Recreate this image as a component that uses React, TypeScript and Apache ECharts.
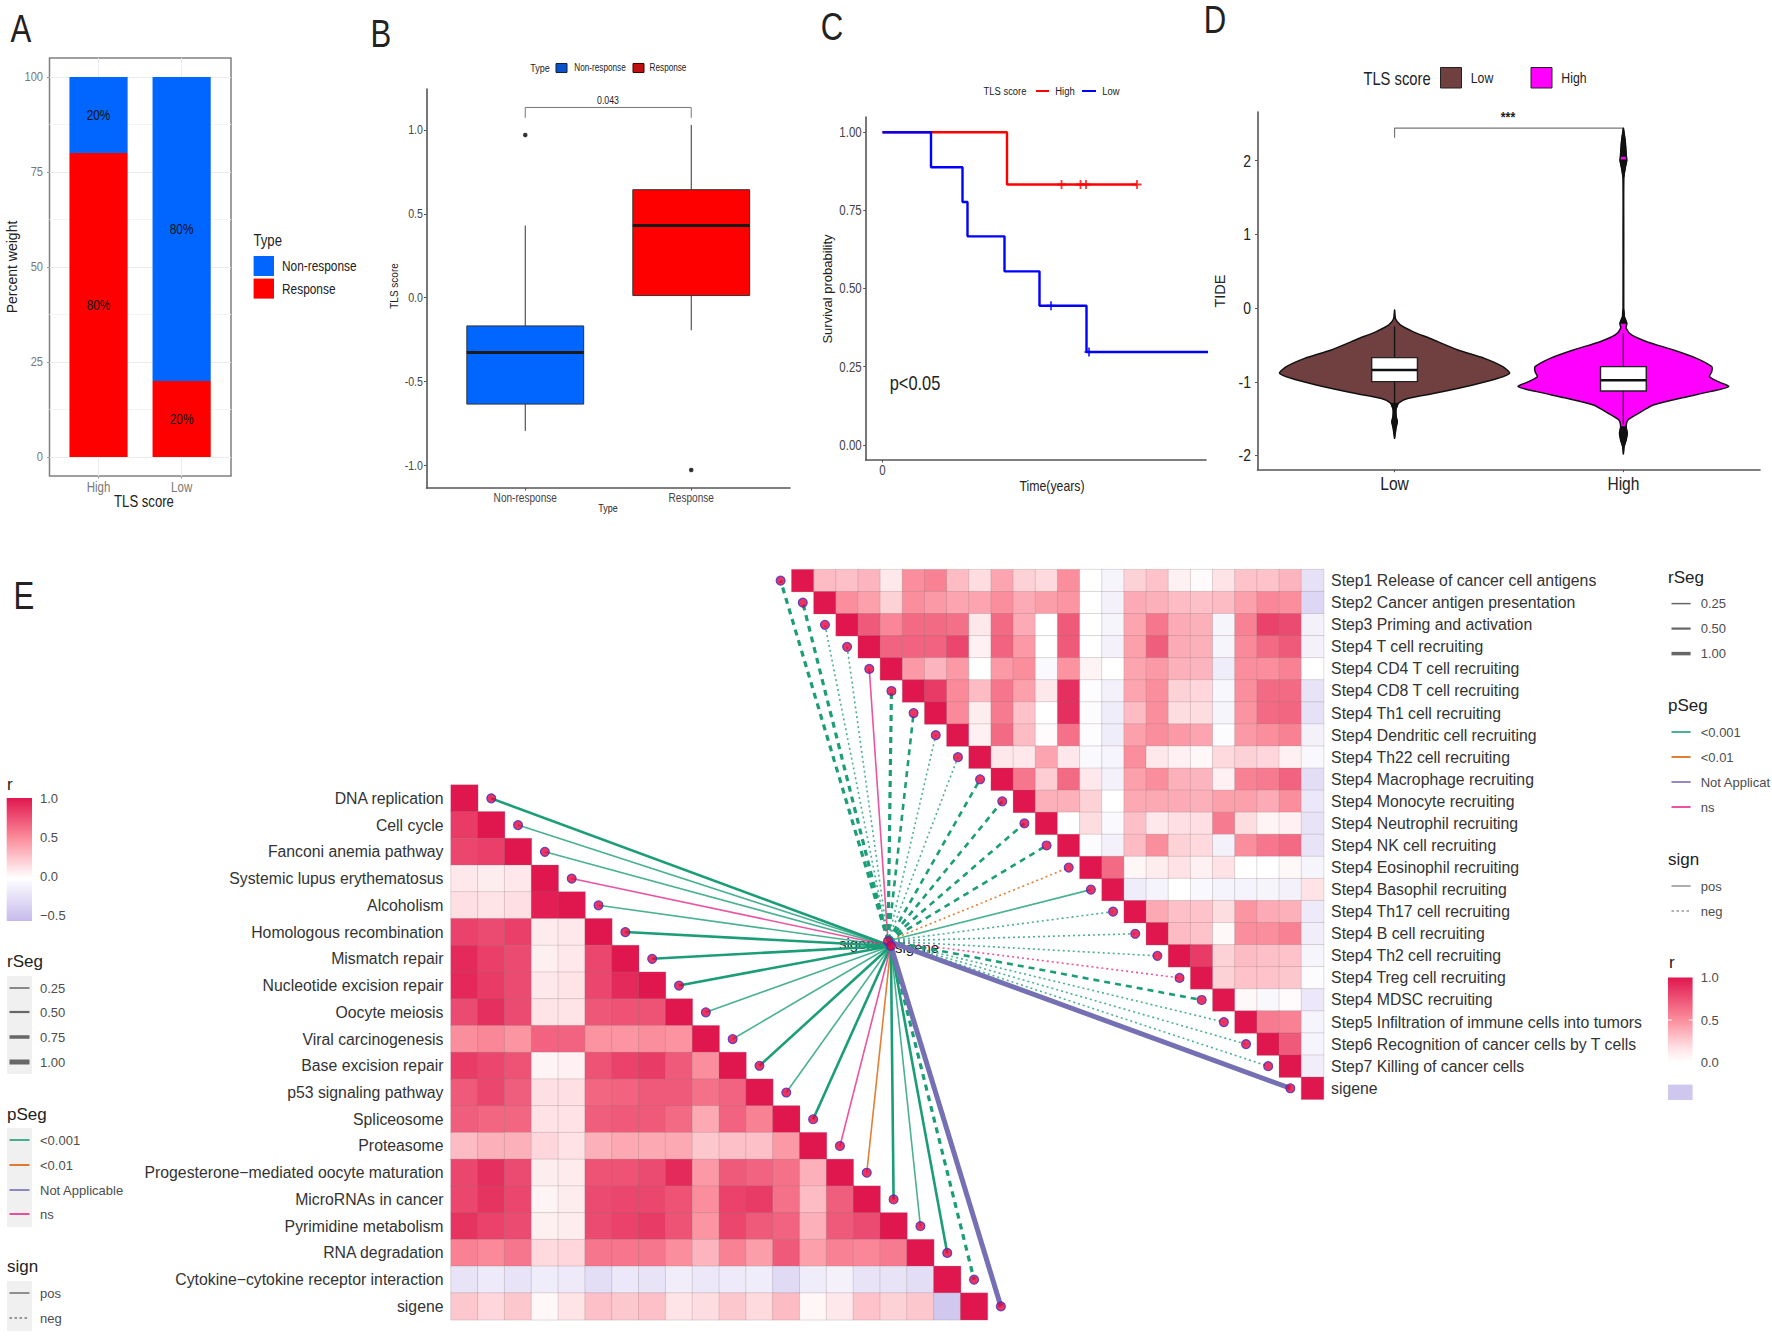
import React, { useEffect, useRef } from "react";
import * as echarts from "echarts";

const SANS = '"Liberation Sans",Arial,sans-serif';
const SQUEEZE = 0.82;

// ---- Panel A
const responsePct = [80, 20];
const nonResponsePct = [20, 80];
const scoreGroups = ["High", "Low"];
const percentTicks = [0, 25, 50, 75, 100];
const percentMinor = [12.5, 37.5, 62.5, 87.5];

// ---- Panel B
const typeGroups = ["Non-response", "Response"];
const scoreTicks = [-1, -0.5, 0, 0.5, 1];
const whiskerLow = [-0.794, -0.194];
const quartile1 = [-0.634, 0.013];
const medians = [-0.326, 0.43];
const quartile3 = [-0.168, 0.644];
const whiskerHigh = [0.43, 1.03];
const outliers = [[1, 0.97], [2, -1.027]];
const bracketB = [[1, 1.072], [1, 1.134], [2, 1.134], [2, 1.072]];

// ---- Panel C
const kmHigh = [[0, 1], [2.49, 0.833], [5.09, 0.833]];
const kmLow = [[0, 1], [0.97, 0.888], [1.6, 0.777], [1.7, 0.667], [2.44, 0.555], [3.14, 0.445], [4.08, 0.297], [7, 0.297]];
const censorHigh = [[3.58, 0.833], [3.96, 0.833], [4.07, 0.833], [5.09, 0.833]];
const censorLow = [[3.37, 0.445], [4.13, 0.297]];
const survivalTicks = [0, 0.25, 0.5, 0.75, 1];

// ---- Panel D
const tideTicks = [-2, -1, 0, 1, 2];
const tideGroups = ["Low", "High"];
const violinLowY = [-0.026, -0.139, -0.229, -0.32, -0.41, -0.568, -0.682, -0.795, -0.885, -0.953, -1.043, -1.156, -1.224, -1.292, -1.383, -1.473, -1.541, -1.631, -1.767];
const violinLowW = [0, 0.003, 0.025, 0.08, 0.153, 0.277, 0.393, 0.473, 0.503, 0.452, 0.342, 0.175, 0.061, 0.017, 0.006, 0.007, 0.012, 0.006, 0];
const violinHighY = [2.44, 2.27, 2.1, 2.06, 2.01, 1.9, 1.77, 1, 0, -0.05, -0.117, -0.206, -0.274, -0.365, -0.456, -0.568, -0.682, -0.795, -0.863, -0.931, -0.999, -1.066, -1.134, -1.224, -1.315, -1.428, -1.519, -1.61, -1.699, -1.79, -1.88, -1.98];
const violinHighW = [0, 0.008, 0.012, 0.013, 0.015, 0.008, 0.002, 0.0015, 0.0015, 0.003, 0.004, 0.015, 0.012, 0.036, 0.102, 0.219, 0.32, 0.386, 0.386, 0.376, 0.415, 0.46, 0.379, 0.248, 0.131, 0.066, 0.02, 0.012, 0.017, 0.012, 0.003, 0];
const violinLowDark = [[-1.29, -1.77], [-0.02, -0.14]];
const violinHighDark = [[2.44, 2.06], [2.01, 1.77], [-0.05, -0.21], [-1.6, -1.98]];
const tideWhiskerTop = [-0.25, -0.34];
const tideWhiskerBottom = [-1.33, -1.58];
const tideQ3 = [-0.673, -0.795];
const tideMedian = [-0.84, -0.98];
const tideQ1 = [-0.998, -1.125];
const bracketD = [[1, 2.31], [1, 2.44], [2, 2.44], [2, 2.38]];

// ---- Panel E, upper triangle
const upperLabels = ["Step1 Release of cancer cell antigens", "Step2 Cancer antigen presentation", "Step3 Priming and activation", "Step4 T cell recruiting", "Step4 CD4 T cell recruiting", "Step4 CD8 T cell recruiting", "Step4 Th1 cell recruiting", "Step4 Dendritic cell recruiting", "Step4 Th22 cell recruiting", "Step4 Macrophage recruiting", "Step4 Monocyte recruiting", "Step4 Neutrophil recruiting", "Step4 NK cell recruiting", "Step4 Eosinophil recruiting", "Step4 Basophil recruiting", "Step4 Th17 cell recruiting", "Step4 B cell recruiting", "Step4 Th2 cell recruiting", "Step4 Treg cell recruiting", "Step4 MDSC recruiting", "Step5 Infiltration of immune cells into tumors", "Step6 Recognition of cancer cells by T cells", "Step7 Killing of cancer cells", "sigene"];
const upperRows = [
  [1, .3, .28, .33, .1, .5, .55, .3, .15, .4, .2, .17, .5, 0, -.07, .2, .27, .06, .02, .12, .27, .27, .33, -.22],
  [1, .5, .42, .2, .5, .45, .4, .4, .5, .37, .43, .47, 0, -.1, .37, .35, .3, .28, .3, .42, .53, .5, -.3],
  [1, .72, .53, .65, .65, .63, .1, .65, .37, 0, .72, 0, -.07, .4, .6, .37, .35, -.07, .55, .82, .78, -.1],
  [1, .68, .68, .68, .8, .06, .68, .45, 0, .72, 0, -.1, .42, .7, .37, .35, -.07, .52, .65, .72, -.1],
  [1, .45, .33, .45, 0, .45, .5, -.04, .48, .05, 0, .4, .45, .35, .33, -.13, .5, .5, .55, 0],
  [1, .85, .52, .3, .6, .42, .1, .9, -.02, -.1, .4, .5, .2, .18, -.06, .5, .65, .65, -.2],
  [1, .52, .08, .58, .27, 0, .9, -.03, -.13, .3, .5, .15, .15, -.07, .48, .65, .67, -.22],
  [1, .06, .65, .3, .02, .62, -.02, -.13, .42, .5, .45, .4, -.03, .45, .5, .55, -.1],
  [1, .1, .1, .4, .1, -.04, -.08, .5, .1, .06, .03, .17, .2, .18, .06, -.05],
  [1, .6, .22, .65, .1, -.1, .42, .5, .35, .33, .06, .55, .58, .68, -.25],
  [1, .35, .35, .2, 0, .38, .38, .37, .35, .42, .42, .37, .5, -.17],
  [1, 0, .15, -.04, .28, .1, .14, .14, .58, .15, .05, .06, -.2],
  [1, -.03, -.1, .3, .5, .2, .17, -.1, .5, .6, .65, -.2],
  [1, .65, .04, .08, .13, .06, .13, 0, 0, .03, -.07],
  [1, -.13, -.09, 0, -.05, -.09, -.09, -.07, -.1, .12],
  [1, .38, .28, .27, .15, .47, .37, .35, -.15],
  [1, .3, .27, .03, .5, .5, .55, -.12],
  [1, .85, .2, .3, .28, .27, -.07],
  [1, .2, .27, .27, .25, -.03],
  [1, .03, -.05, .02, -.17],
  [1, .58, .55, -.08],
  [1, .72, -.08],
  [1, -.12],
  [1],
];
const upperP = ["a", "a", "a", "a", "ns", "a", "a", "a", "a", "a", "a", "a", "a", "b", "a", "a", "a", "a", "ns", "a", "a", "a", "a", "na"];
const upperSign = ["neg", "neg", "neg", "neg", "pos", "neg", "neg", "neg", "neg", "neg", "neg", "neg", "neg", "neg", "pos", "neg", "neg", "neg", "neg", "neg", "neg", "neg", "neg", "pos"];
const upperR = [.75, .75, .25, .25, .25, .75, .5, .25, .25, .5, .5, .5, .5, .25, .25, .25, .25, .25, .25, .5, .25, .25, .25, 1];

// ---- Panel E, lower triangle
const lowerLabels = ["DNA replication", "Cell cycle", "Fanconi anemia pathway", "Systemic lupus erythematosus", "Alcoholism", "Homologous recombination", "Mismatch repair", "Nucleotide excision repair", "Oocyte meiosis", "Viral carcinogenesis", "Base excision repair", "p53 signaling pathway", "Spliceosome", "Proteasome", "Progesterone\u2212mediated oocyte maturation", "MicroRNAs in cancer", "Pyrimidine metabolism", "RNA degradation", "Cytokine\u2212cytokine receptor interaction", "sigene"];
const lowerRows = [
  [1],
  [.85, 1],
  [.8, .83, 1],
  [.1, .08, .1, 1],
  [.14, .12, .14, .97, 1],
  [.82, .78, .83, .09, .1, 1],
  [.92, .83, .78, .07, .1, .8, 1],
  [.93, .85, .78, .1, .12, .8, .92, 1],
  [.78, .9, .78, .12, .12, .73, .75, .75, 1],
  [.5, .53, .47, .68, .68, .48, .47, .5, .48, 1],
  [.85, .8, .75, .05, .06, .75, .82, .85, .72, .5, 1],
  [.72, .8, .7, .14, .14, .67, .68, .72, .72, .62, .68, 1],
  [.7, .67, .67, .13, .13, .7, .72, .72, .65, .38, .68, .55, 1],
  [.3, .35, .35, .18, .13, .35, .38, .38, .38, .25, .28, .28, .45, 1],
  [.8, .9, .78, .08, .09, .75, .75, .78, .92, .45, .72, .68, .62, .35, 1],
  [.8, .88, .8, .05, .08, .78, .8, .8, .75, .5, .82, .85, .62, .3, .7, 1],
  [.88, .82, .78, .07, .08, .78, .82, .85, .75, .47, .8, .72, .68, .35, .72, .78, 1],
  [.55, .52, .6, .17, .18, .6, .6, .6, .5, .33, .55, .43, .72, .42, .55, .53, .58, 1],
  [-.2, -.15, -.2, -.13, -.15, -.25, -.17, -.2, -.12, -.17, -.15, -.13, -.27, -.13, -.1, -.2, -.2, -.25, 1],
  [.25, .18, .25, .03, .12, .28, .25, .28, .12, .15, .25, .17, .3, .04, .1, .27, .2, .25, -.4, 1],
];
const lowerP = ["a", "a", "a", "ns", "a", "a", "a", "a", "a", "a", "a", "a", "a", "ns", "b", "a", "a", "a", "a", "na"];
const lowerSign = ["pos", "pos", "pos", "pos", "pos", "pos", "pos", "pos", "pos", "pos", "pos", "pos", "pos", "pos", "pos", "pos", "pos", "pos", "neg", "pos"];
const lowerR = [.5, .25, .25, .25, .25, .5, .5, .5, .25, .25, .5, .25, .5, .25, .25, .5, .25, .5, .75, 1];
const upperHub = [3.846, 16.33];
const lowerHub = [15.9, 5.52];

// ---- legends
const rSegLeft = ["0.25", "0.50", "0.75", "1.00"];
const rSegRight = ["0.25", "0.50", "1.00"];
const pSegLeft = ["<0.001", "<0.01", "Not Applicable", "ns"];
const pSegRight = ["<0.001", "<0.01", "Not Applicat", "ns"];
const signLabels = ["pos", "neg"];
const rTicksLeft = ["1.0", "0.5", "0.0", "\u22120.5"];
const rTicksRight = ["1.0", "0.5", "0.0"];

const BLUE = "#0066FF", RED = "#FF0000", BROWN = "#6F403F", MAGENTA = "#FF00FF";
const pColor: any = { a: "#1B9E77", b: "#D95F02", na: "#7570B3", ns: "#E7298A" };
const rWidth: any = { 0.25: 1.6, 0.5: 2.6, 0.75: 3.2, 1: 5 };
const R_STOPS = ["#C6BAEC", "#FFFFFF", "#FB8E9C", "#E0174F"];

const linkData = (n: number, p: string[], sign: string[], r: number[], hub: number[], dx: number) =>
  Array.from({ length: n }, (_, i) => {
    const w = rWidth[r[i]];
    return {
      coords: [hub, [i + dx, i]],
      lineStyle: {
        color: pColor[p[i]],
        width: w,
        opacity: r[i] === 0.25 ? 0.8 : 1,
        type: sign[i] === "pos" ? "solid" : w < 2 ? [2, 3] : [6, 5],
      },
    };
  });

const heatData = (rows: number[][], upper: boolean) => {
  const out: number[][] = [];
  rows.forEach((row, i) => row.forEach((v, j) => out.push(upper ? [i + j, i, v] : [j, i, v])));
  return out;
};

function valueAxis(gridIndex: number, min: number, max: number, ticks: number[], extra: any = {}) {
  const { tickColor = "#555", lineShow = true, ...rest } = extra;
  return {
    type: "value",
    gridIndex,
    min,
    max,
    splitLine: { show: false },
    axisLine: { show: lineShow, onZero: false, lineStyle: { color: "#555", width: 1.6 } },
    axisTick: { show: true, customValues: ticks, length: 2.5, lineStyle: { color: tickColor } },
    axisLabel: { show: false },
    ...rest,
  };
}

// tick labels squeezed horizontally, placed through the axis scale
function tickLabels(idx: number, dir: "x" | "y", ticks: number[], other: number, off: number, size: number, color: string, fmt: (v: number) => string) {
  return {
    type: "custom",
    xAxisIndex: idx,
    yAxisIndex: idx,
    clip: false,
    silent: true,
    z: 5,
    data: ticks.map((v) => (dir === "x" ? [v, other] : [other, v])),
    renderItem: (p: any, api: any) => {
      const pt = api.coord([api.value(0), api.value(1)]);
      return {
        type: "text",
        x: dir === "x" ? pt[0] : pt[0] - off,
        y: dir === "x" ? pt[1] + off : pt[1],
        scaleX: SQUEEZE,
        style: { text: fmt(ticks[p.dataIndex]), fontSize: size, fontFamily: SANS, fill: color, align: dir === "x" ? "center" : "right", verticalAlign: "middle" },
      };
    },
  };
}

function stackedBar(name: string, values: number[], bases: number[], color: string) {
  return {
    name,
    type: "custom",
    xAxisIndex: 0,
    yAxisIndex: 0,
    z: 3,
    data: values.map((v, i) => [i + 1, bases[i] + v]),
    renderItem: (p: any, api: any) => {
      const i = p.dataIndex, x = i + 1, w = 0.35;
      const tl = api.coord([x - w, bases[i] + values[i]]), br = api.coord([x + w, bases[i]]);
      const mid = api.coord([x, bases[i] + values[i] / 2]);
      return {
        type: "group",
        children: [
          { type: "rect", shape: { x: tl[0], y: tl[1], width: br[0] - tl[0], height: br[1] - tl[1] }, style: { fill: color } },
          { type: "text", x: mid[0], y: mid[1], scaleX: SQUEEZE, style: { text: values[i] + "%", fontSize: 14.5, fontFamily: SANS, fill: "#111", align: "center", verticalAlign: "middle" } },
        ],
      };
    },
  };
}

export default function App() {
  const ref = useRef<HTMLDivElement>(null);
  useEffect(() => {
    document.body.style.margin = "0";
    const chart = echarts.init(ref.current!, undefined, { renderer: "svg" });

    const T = (x: number, y: number, text: string, o: any = {}) => ({
      type: "text",
      x,
      y,
      rotation: o.rot ? Math.PI / 2 : 0,
      scaleX: o.wide || o.rot ? 1 : SQUEEZE,
      silent: true,
      z: 1,
      style: {
        text,
        fontSize: o.size ?? 13,
        fontFamily: SANS,
        fontWeight: o.bold ? "bold" : "normal",
        fill: o.color ?? "#222",
        align: o.align ?? "center",
        verticalAlign: "middle",
      },
    });
    const L = (x1: number, x2: number, y: number, stroke: string, lineWidth: number, dash?: number[]) => ({
      type: "line",
      silent: true,
      z: 2,
      shape: { x1, y1: y, x2, y2: y },
      style: { stroke, lineWidth, lineDash: dash },
    });
    const Rc = (x: number, y: number, w: number, h: number, fill: any, stroke?: string) => ({
      type: "rect",
      silent: true,
      z: 1,
      shape: { x, y, width: w, height: h },
      style: { fill, stroke, lineWidth: stroke ? 1 : 0 },
    });
    const gradient = (stops: any[]) => new echarts.graphic.LinearGradient(0, 0, 0, 1, stops);
    const Title = (x: number, y: number, s: string) => T(x, y, s, { size: 17, wide: true, align: "left" });

    const elements: any[] = [
      T(21, 29, "A", { size: 38 }),
      T(381, 34, "B", { size: 38 }),
      T(832, 27, "C", { size: 38 }),
      T(1215, 20, "D", { size: 38 }),
      T(24, 596, "E", { size: 38 }),
      // A
      T(12, 267, "Percent weight", { rot: true, size: 14 }),
      T(144, 502, "TLS score", { size: 16 }),
      T(253.5, 241, "Type", { size: 16, align: "left" }),
      Rc(253.6, 256, 20.4, 20, BLUE),
      Rc(253.6, 278.6, 20.4, 20, RED),
      T(282, 266, "Non-response", { size: 14.5, align: "left" }),
      T(282, 288.6, "Response", { size: 14.5, align: "left" }),
      // B
      T(394, 286, "TLS score", { rot: true, size: 10 }),
      T(608, 508, "Type", { size: 11 }),
      T(540, 68, "Type", { size: 11 }),
      Rc(556, 63.5, 11, 9, "#0A52C9", "#123"),
      Rc(633, 63.5, 11, 9, "#C00F0F", "#400"),
      T(600, 68, "Non-response", { size: 10 }),
      T(668, 68, "Response", { size: 10 }),
      T(608, 100, "0.043", { size: 10.7 }),
      // C
      T(827, 289, "Survival probability", { rot: true, size: 13 }),
      T(1052, 486, "Time(years)", { size: 15 }),
      T(915, 383, "p<0.05", { size: 20 }),
      T(1005, 91, "TLS score", { size: 11.5 }),
      L(1036, 1049, 91, RED, 2),
      T(1065, 91, "High", { size: 11.5 }),
      L(1082, 1096, 91, "#0000FF", 2),
      T(1111, 91, "Low", { size: 11.5 }),
      // D
      T(1220, 291, "TIDE", { rot: true, size: 14.5 }),
      T(1508, 117, "***", { size: 15, bold: true }),
      T(1397, 78, "TLS score", { size: 18 }),
      Rc(1440.5, 67.5, 21, 20.5, BROWN, "#222"),
      T(1482, 78, "Low", { size: 15 }),
      Rc(1531, 67.5, 21, 20.5, MAGENTA, "#222"),
      T(1574, 78, "High", { size: 15 }),
      // E labels at the hub
      T(861, 943, "sigene", { size: 15, wide: true }),
      T(917, 947.5, "sigene", { size: 15, wide: true }),
      // E left legends
      Title(7, 784, "r"),
      Rc(6.7, 798, 25.3, 123, gradient([
        { offset: 0, color: R_STOPS[3] },
        { offset: 0.33, color: R_STOPS[2] },
        { offset: 0.65, color: R_STOPS[1] },
        { offset: 1, color: R_STOPS[0] },
      ])),
      Title(7, 961, "rSeg"),
      Rc(7, 976, 25, 98, "#F0F0F0"),
      Title(7, 1114, "pSeg"),
      Rc(7, 1128, 25, 99, "#F0F0F0"),
      Title(7, 1266, "sign"),
      Rc(7, 1281, 25, 50, "#F0F0F0"),
      // E right legends
      Title(1668, 577, "rSeg"),
      Title(1668, 705, "pSeg"),
      Title(1668, 859, "sign"),
      Title(1669, 962.5, "r"),
      Rc(1668, 977.5, 24.6, 85, gradient([
        { offset: 0, color: R_STOPS[3] },
        { offset: 0.5, color: R_STOPS[2] },
        { offset: 0.85, color: "#FFE6EA" },
        { offset: 1, color: "#FFFFFF" },
      ])),
      Rc(1668, 1084.6, 24.6, 15.4, "#CFC7EE"),
      L(1668, 1672, 1020, "#fff", 1),
      L(1688.6, 1692.6, 1020, "#fff", 1),
    ];
    const legendText = (x: number, y: number, s: string) => T(x, y, s, { size: 13, wide: true, align: "left", color: "#4d4d4d" });
    [798, 837, 876.5, 915].forEach((y, i) => elements.push(legendText(40, y, rTicksLeft[i])));
    [988, 1012, 1037, 1062].forEach((y, i) => {
      elements.push(L(9.5, 29.5, y, "#666", [1.5, 2.2, 3.5, 5][i]), legendText(40, y, rSegLeft[i]));
    });
    const pKeys = ["a", "b", "na", "ns"];
    [1140, 1165, 1190, 1214].forEach((y, i) => {
      elements.push(L(9.5, 29.5, y, pColor[pKeys[i]], 1.6), legendText(40, y, pSegLeft[i]));
    });
    [1293, 1318].forEach((y, i) => {
      elements.push(L(9.5, 29.5, y, "#777", 1.6, i ? [2.5, 2.5] : undefined), legendText(40, y, signLabels[i]));
    });
    [603.6, 628.6, 653.6].forEach((y, i) => {
      elements.push(L(1671.5, 1690.6, y, "#666", [1.5, 2.2, 3.5][i]), legendText(1700.7, y, rSegRight[i]));
    });
    [732, 757, 782, 807].forEach((y, i) => {
      elements.push(L(1671.5, 1690.6, y, pColor[pKeys[i]], 1.6), legendText(1700.7, y, pSegRight[i]));
    });
    [886, 911].forEach((y, i) => {
      elements.push(L(1671.5, 1690.6, y, "#999", 1.6, i ? [2.5, 2.5] : undefined), legendText(1700.7, y, signLabels[i]));
    });
    [977, 1020, 1062.5].forEach((y, i) => elements.push(legendText(1700.7, y, rTicksRight[i])));

    const heatStyle = { borderColor: "rgba(140,120,120,0.35)", borderWidth: 0.7 };
    const heatLabel = { interval: 0, margin: 7.5, fontSize: 15.8, color: "#333", fontFamily: SANS };
    const nodeStyle = { color: "#E8003A", borderColor: "#2F2FD0", borderWidth: 1.1 };

    const option: any = {
      animation: false,
      backgroundColor: "#fff",
      textStyle: { fontFamily: SANS },
      graphic: { elements },
      visualMap: {
        show: false,
        type: "continuous",
        min: -0.5,
        max: 1,
        dimension: 2,
        seriesIndex: [0, 1],
        inRange: { color: R_STOPS },
      },
      grid: [
        { left: 49.5, top: 58, width: 181.5, height: 418, show: true, borderColor: "#808080", borderWidth: 1.5, backgroundColor: "#fff", z: 0 },
        { left: 426.5, top: 89, width: 363.5, height: 399 },
        { left: 865.7, top: 117, width: 340.3, height: 343 },
        { left: 1257.5, top: 112, width: 502.5, height: 357.7 },
        { left: 791.7, top: 569.6, width: 531.9, height: 529.7 },
        { left: 451, top: 785, width: 536.5, height: 534.8 },
        { left: 769.54, top: 569.6, width: 554.06, height: 529.7 },
        { left: 451, top: 785, width: 563.3, height: 534.8 },
      ],
      xAxis: [
        valueAxis(0, 0.41, 2.594, [1, 2], { lineShow: false, tickColor: "#999", splitLine: { show: true, lineStyle: { color: "#ececec", width: 1 } } }),
        valueAxis(1, 0.405, 2.595, [1, 2]),
        valueAxis(2, -0.336, 6.47, [0]),
        valueAxis(3, 0.401, 2.597, [1, 2]),
        { type: "category", gridIndex: 4, data: upperLabels, show: false },
        { type: "category", gridIndex: 5, data: lowerLabels, show: false },
        { type: "value", gridIndex: 6, min: -1.5, max: 23.5, show: false },
        { type: "value", gridIndex: 7, min: -0.5, max: 20.5, show: false },
      ],
      yAxis: [
        valueAxis(0, -5, 105, percentTicks, { lineShow: false, tickColor: "#999", splitLine: { show: true, lineStyle: { color: "#ececec", width: 1 } } }),
        valueAxis(1, -1.134, 1.244, scoreTicks),
        valueAxis(2, -0.0487, 1.049, survivalTicks),
        valueAxis(3, -2.193, 2.66, tideTicks),
        { type: "category", gridIndex: 4, data: upperLabels, inverse: true, position: "right", axisLine: { show: false }, axisTick: { show: false }, axisLabel: heatLabel },
        { type: "category", gridIndex: 5, data: lowerLabels, inverse: true, position: "left", axisLine: { show: false }, axisTick: { show: false }, axisLabel: heatLabel },
        { type: "value", gridIndex: 6, min: -0.5, max: 23.5, inverse: true, show: false },
        { type: "value", gridIndex: 7, min: -0.5, max: 19.5, inverse: true, show: false },
      ],
      series: [
        { type: "heatmap", xAxisIndex: 4, yAxisIndex: 4, data: heatData(upperRows, true), itemStyle: heatStyle, progressive: 0 },
        { type: "heatmap", xAxisIndex: 5, yAxisIndex: 5, data: heatData(lowerRows, false), itemStyle: heatStyle, progressive: 0 },
        // A
        {
          type: "custom", xAxisIndex: 0, yAxisIndex: 0, z: 1, data: percentMinor.map((v) => [1, v]),
          renderItem: (_p: any, api: any) => {
            const a = api.coord([0.41, api.value(1)]), b = api.coord([2.594, api.value(1)]);
            return { type: "line", shape: { x1: a[0], y1: a[1], x2: b[0], y2: b[1] }, style: { stroke: "#f4f4f4", lineWidth: 1 } };
          },
        },
        stackedBar("Response", responsePct, [0, 0], RED),
        stackedBar("Non-response", nonResponsePct, responsePct, BLUE),
        tickLabels(0, "x", [1, 2], -5, 11, 14, "#777", (v) => scoreGroups[v - 1]),
        tickLabels(0, "y", percentTicks, 0.41, 6.5, 13.5, "#777", (v) => String(v)),
        // B
        {
          type: "custom", xAxisIndex: 1, yAxisIndex: 1, data: [[1, medians[0]], [2, medians[1]]], clip: false,
          renderItem: (p: any, api: any) => {
            const i = p.dataIndex, x = i + 1, w = 0.352;
            const c = (dx: number, v: number) => api.coord([x + dx, v]);
            const col = i === 0 ? BLUE : RED;
            const tl = c(-w, quartile3[i]), br = c(w, quartile1[i]);
            const m1 = c(-w, medians[i]), m2 = c(w, medians[i]);
            const vline = (a: number, b: number) => {
              const u = c(0, a), v = c(0, b);
              return { type: "line", shape: { x1: u[0], y1: u[1], x2: v[0], y2: v[1] }, style: { stroke: "#333", lineWidth: 1 } };
            };
            return {
              type: "group",
              children: [
                vline(whiskerLow[i], quartile1[i]),
                vline(quartile3[i], whiskerHigh[i]),
                { type: "rect", shape: { x: tl[0], y: tl[1], width: br[0] - tl[0], height: br[1] - tl[1] }, style: { fill: col, stroke: "#333", lineWidth: 1 } },
                { type: "line", shape: { x1: m1[0], y1: m1[1], x2: m2[0], y2: m2[1] }, style: { stroke: "#1a1a1a", lineWidth: 3 } },
              ],
            };
          },
        },
        { type: "scatter", xAxisIndex: 1, yAxisIndex: 1, symbolSize: 4.5, data: outliers, itemStyle: { color: "#000" } },
        { type: "line", xAxisIndex: 1, yAxisIndex: 1, data: bracketB, showSymbol: false, lineStyle: { color: "#777", width: 1 } },
        tickLabels(1, "x", [1, 2], -1.134, 9.5, 12.3, "#444", (v) => typeGroups[v - 1]),
        tickLabels(1, "y", scoreTicks, 0.405, 3.5, 13, "#444", (v) => (v < 0 ? "-" : "") + Math.abs(v).toFixed(1)),
        // C
        { name: "High", type: "line", step: "end", xAxisIndex: 2, yAxisIndex: 2, data: kmHigh, showSymbol: false, lineStyle: { color: RED, width: 2.4 }, z: 2 },
        { name: "Low", type: "line", step: "end", xAxisIndex: 2, yAxisIndex: 2, data: kmLow, showSymbol: false, lineStyle: { color: "#0000FF", width: 2.4 }, z: 3 },
        { type: "scatter", xAxisIndex: 2, yAxisIndex: 2, data: censorHigh, symbol: "path://M4 0H6V4H10V6H6V10H4V6H0V4H4Z", symbolSize: 9, itemStyle: { color: RED }, z: 4 },
        { type: "scatter", xAxisIndex: 2, yAxisIndex: 2, data: censorLow, symbol: "path://M4 0H6V4H10V6H6V10H4V6H0V4H4Z", symbolSize: 9, itemStyle: { color: "#0000FF" }, z: 4 },
        tickLabels(2, "x", [0], -0.0487, 10, 14, "#444", () => "0"),
        tickLabels(2, "y", survivalTicks, -0.336, 4, 14, "#444", (v) => v.toFixed(2)),
        // D
        {
          type: "custom", xAxisIndex: 3, yAxisIndex: 3, data: [[1, tideMedian[0]], [2, tideMedian[1]]], clip: false,
          renderItem: (p: any, api: any) => {
            const i = p.dataIndex, x = i + 1;
            const ys = i === 0 ? violinLowY : violinHighY;
            const ws = i === 0 ? violinLowW : violinHighW;
            const dark = i === 0 ? violinLowDark : violinHighDark;
            const outline = (keep: (v: number) => boolean) => {
              const left: number[][] = [], right: number[][] = [];
              ys.forEach((v, k) => {
                if (keep(v)) {
                  left.push(api.coord([x - ws[k], v]));
                  right.unshift(api.coord([x + ws[k], v]));
                }
              });
              return left.concat(right);
            };
            const w = 0.1;
            const tl = api.coord([x - w, tideQ3[i]]), br = api.coord([x + w, tideQ1[i]]);
            const m1 = api.coord([x - w, tideMedian[i]]), m2 = api.coord([x + w, tideMedian[i]]);
            const wt = api.coord([x, tideWhiskerTop[i]]), wb = api.coord([x, tideWhiskerBottom[i]]);
            return {
              type: "group",
              children: [
                { type: "polygon", shape: { points: outline(() => true), smooth: 0.25 }, style: { fill: i === 0 ? BROWN : MAGENTA, stroke: "#111", lineWidth: 1.5, lineJoin: "round" } },
                ...dark.map((d) => ({ type: "polygon", shape: { points: outline((v) => v <= d[0] && v >= d[1]) }, style: { fill: "#111", stroke: "#111", lineWidth: 1 } })),
                { type: "line", shape: { x1: wt[0], y1: wt[1], x2: wb[0], y2: wb[1] }, style: { stroke: "#111", lineWidth: 1.3 } },
                { type: "rect", shape: { x: tl[0], y: tl[1], width: br[0] - tl[0], height: br[1] - tl[1] }, style: { fill: "#fff", stroke: "#222", lineWidth: 1.4 } },
                { type: "line", shape: { x1: m1[0], y1: m1[1], x2: m2[0], y2: m2[1] }, style: { stroke: "#111", lineWidth: 2.6 } },
              ],
            };
          },
        },
        { type: "line", xAxisIndex: 3, yAxisIndex: 3, data: bracketD, showSymbol: false, lineStyle: { color: "#777", width: 1.2 }, z: 1 },
        tickLabels(3, "x", [1, 2], -2.193, 13.5, 19, "#222", (v) => tideGroups[v - 1]),
        tickLabels(3, "y", tideTicks, 0.401, 6.5, 17, "#222", (v) => String(v)),
        // E links
        { type: "lines", coordinateSystem: "cartesian2d", xAxisIndex: 6, yAxisIndex: 6, data: linkData(24, upperP, upperSign, upperR, upperHub, -1), z: 3 },
        { type: "lines", coordinateSystem: "cartesian2d", xAxisIndex: 7, yAxisIndex: 7, data: linkData(20, lowerP, lowerSign, lowerR, lowerHub, 1), z: 3 },
        { type: "scatter", xAxisIndex: 6, yAxisIndex: 6, symbolSize: 9, z: 4, data: [upperHub, ...upperLabels.map((_, i) => [i - 1, i])], itemStyle: nodeStyle },
        { type: "scatter", xAxisIndex: 7, yAxisIndex: 7, symbolSize: 9, z: 4, data: [lowerHub, ...lowerLabels.map((_, i) => [i + 1, i])], itemStyle: nodeStyle },
      ],
    };
    chart.setOption(option);
    return () => chart.dispose();
  }, []);
  return <div ref={ref} style={{ position: "absolute", left: 0, top: 0, width: 1772, height: 1336, overflow: "hidden" }} />;
}
